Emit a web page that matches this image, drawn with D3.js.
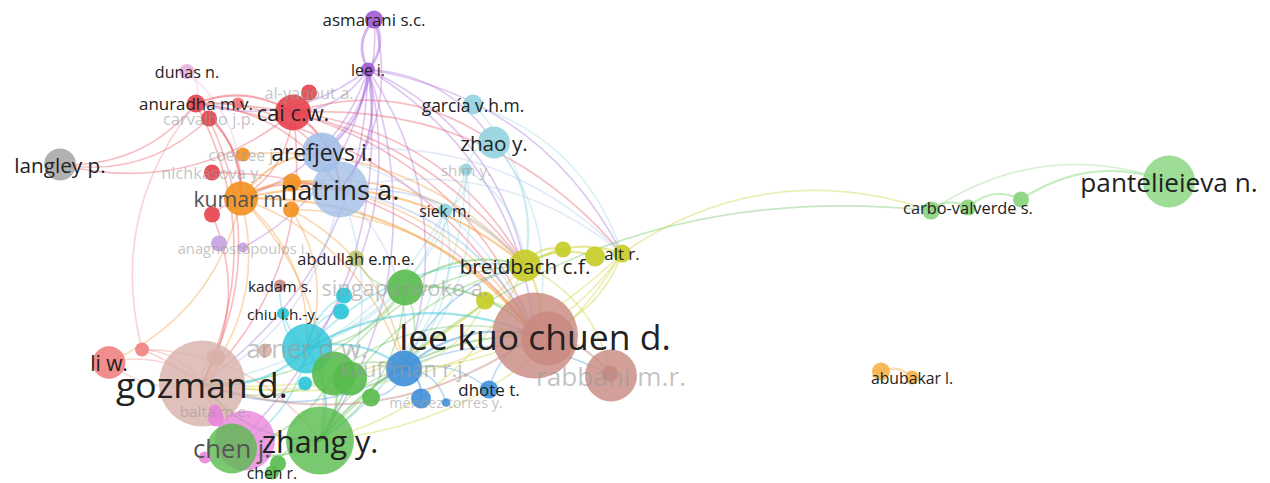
<!DOCTYPE html>
<html>
<head>
<meta charset="utf-8">
<script src="https://cdn.jsdelivr.net/npm/d3@7"></script>
<style>
  body { margin: 0; background: #fff; }
  svg { display: block; }
</style>
</head>
<body>
<div id="container"></div>
<script>
/* CONSTANTS AND GLOBALS */
const width = 1270,
  height = 483;

/* DATA (map coordinates, weights and clusters of each author) */
const keys = ["asm","leeI","dunas","anu","carv","r6","cai","aly","lang","coet",
  "aref","natr","zhao","garc","shim","siek","nich","kumar","o1","o2",
  "r21","lav1","anag","abd","kad","sing","c1","c2","chiu","breid",
  "y1","y2","alt","y3","lkc","lkc2","rabb","rb2","arner","br3",
  "g1","g2","g3","c3","kauf","b2","dhote","mend","liw","s2",
  "gozm","p1","balta","p2","zhang","p3","chenj","p4","g4","chenr",
  "carbo","lg1","lg2","pant","abub","lo1"];

const labels = ["asmarani s.c.","lee i.","dunas n.","anuradha m.v.","carvalho j.p.","","cai c.w.","al-yaqout a.","langley p.","coetzee j.",
  "arefjevs i.","natrins a.","zhao y.","garcía v.h.m.","shim y.","siek m.","nichkasova y.","kumar m.","","",
  "","","anagnostopoulos i.","abdullah e.m.e.","kadam s.","singapurwoko a.","","","chiu i.h.-y.","breidbach c.f.",
  "","","alt r.","","lee kuo chuen d.","","rabbani m.r.","","arner d.w.","",
  "","","","","kauffman r.j.","","dhote t.","méndez-torres y.","li w.","",
  "gozman d.","","balta m.e.","","zhang y.","","chen j.","","","chen r.",
  "carbo-valverde s.","","","pantelieieva n.","abubakar l.",""];

const xs = [-2.61,-2.67,-4.48,-4.39,-4.26,-3.97,-3.42,-3.26,-5.75,-3.92,
  -3.13,-2.95,-1.41,-1.62,-1.69,-1.90,-4.23,-3.94,-3.43,-3.44,
  -4.23,-4.16,-3.92,-2.79,-3.55,-2.30,-2.91,-2.94,-3.52,-1.10,
  -0.72,-0.40,-0.13,-1.50,-1.00,-0.87,-0.24,-0.25,-3.28,-3.70,
  -3.01,-2.85,-2.64,-3.30,-2.31,-2.14,-1.46,-1.89,-5.26,-4.93,
  -4.33,-4.19,-4.20,-4.19,-3.15,-3.90,-4.03,-4.30,-3.57,-3.63,
  3.33,2.96,3.86,5.34,2.77,2.46];

const ys = [-2.22,-1.72,-1.70,-1.38,-1.23,-1.38,-1.29,-1.49,-0.77,-0.87,
  -0.89,-0.52,-0.99,-1.37,-0.72,-0.31,-0.69,-0.43,-0.59,-0.32,
  -0.27,0.02,0.06,0.17,0.44,0.46,0.54,0.70,0.72,0.24,
  0.08,0.15,0.12,0.59,0.94,0.97,1.34,1.32,1.07,1.09,
  1.32,1.37,1.56,1.42,1.27,1.57,1.48,1.61,1.21,1.08,
  1.42,1.16,1.69,1.77,1.99,1.99,2.07,2.16,2.22,2.31,
  -0.34,-0.31,-0.42,-0.60,1.36,1.30];

const weights = [4.4,2.6,3.0,4.4,3.5,2.0,17.5,3.5,13.8,2.6,
  21.6,42.4,13.8,5.4,2.0,2.6,3.5,15.6,4.4,3.5,
  3.5,3.5,1.4,3.5,2.0,17.5,3.5,3.5,2.0,13.8,
  3.5,5.4,4.4,4.4,100,39.4,36.5,3.5,33.8,2.6,
  26.2,15.6,4.4,2.6,17.5,5.4,4.4,1.0,14.5,2.6,
  100,4.4,2.0,3.5,62.5,48.6,33.8,2.0,3.5,2.6,
  3.5,4.4,3.5,36.5,2.6,4.4];

const clusters = ["purple","purple","pinkL","red","red","redL","red","red","grey","orange",
  "lblue","lblue","lcyan","lcyan","lcyan","lcyan","red","orange","orange","orange",
  "red","lav","lav","olive","brown","green","cyan","cyan","cyan","yellow",
  "yellow","yellow","yellow","yellow","brown","brown","brown","brown","cyan","brownL",
  "green","green","green","cyan","blue","blue","blue","blue","salmon","salmon",
  "brownL","brownL","pink","pink","green","pink","green","pink","green","green",
  "lgreen","lgreen","lgreen","lgreen","lorange","lorange"];

const fadedLabels = ["carvalho j.p.","al-yaqout a.","coetzee j.","nichkasova y.","shim y.","anagnostopoulos i.",
  "singapurwoko a.","rabbani m.r.","arner d.w.","kauffman r.j.","méndez-torres y.","balta m.e."];
const greyLabels = ["kumar m.","chen j."];

const links = [
  ["leeI","asm",3],["asm","leeI",3],
  ["leeI","cai",1],["leeI","aref",2],["leeI","natr",2],["leeI","kumar",1],["leeI","anag",1],["leeI","gozm",1],
  ["leeI","arner",1],["leeI","kauf",1],["leeI","zhao",1],["leeI","breid",1],["leeI","lkc",1],["leeI","zhang",1],
  ["leeI","anu",1],["leeI","alt",1],["leeI","chenj",1],
  ["asm","natr",1],["asm","aref",1],
  ["anu","lang",1],["anu","cai",2],["anu","kumar",2],["anu","natr",1],["anu","gozm",1],["anu","aref",1],["anu","breid",1],["anu","lkc",1],
  ["cai","lang",1],["cai","natr",2],["cai","kumar",1],["cai","breid",1],["cai","alt",1],["cai","lkc",1],["cai","zhao",1],["cai","gozm",1],
  ["carv","lang",1],["carv","kumar",1],["carv","gozm",1],
  ["dunas","anu",1],["dunas","kumar",1],
  ["kumar","natr",2],["kumar","aref",2],["kumar","gozm",1],["kumar","zhang",1],["kumar","lkc",2],["kumar","breid",2],
  ["kumar","kauf",1],["kumar","arner",1],["kumar","liw",1],
  ["o1","lkc",1],["o1","breid",1],["o2","kauf",1],["o2","arner",1],["o2","lkc",1],["coet","breid",1],
  ["r21","gozm",1],["r21","natr",1],["nich","lkc",1],
  ["s2","anu",1],["s2","gozm",1],["s2","zhang",1],["liw","gozm",1],["s2","chenj",1],
  ["natr","lkc",2],["natr","breid",2],["natr","gozm",1],["natr","zhang",1],["natr","alt",1],["natr","kauf",1],
  ["aref","lkc",1],["aref","alt",1],
  ["shim","siek",1],["shim","zhao",1],["shim","arner",1],["shim","kauf",1],["shim","zhang",1],["shim","breid",1],
  ["zhao","breid",1],["zhao","lkc",1],["garc","alt",1],["garc","breid",1],
  ["siek","arner",1],["siek","kauf",1],["siek","zhang",1],["siek","gozm",1],
  ["arner","gozm",2],["arner","zhang",2],["arner","lkc",2],["arner","kauf",2],["arner","breid",1],["arner","chenj",1],
  ["arner","chiu",1],["arner","c1",1],["arner","c2",1],["arner","kad",1],
  ["sing","lkc",2],["sing","breid",2],["sing","zhang",1],["sing","gozm",1],["sing","kauf",1],["sing","arner",1],["sing","abd",1],
  ["g1","lkc",1],["g1","breid",1],["g1","kauf",1],["g1","zhang",2],["g1","gozm",1],["g1","chenj",1],
  ["zhang","lkc",2],["zhang","kauf",1],["zhang","gozm",2],["zhang","breid",1],["zhang","chenj",2],
  ["chenr","zhang",1],["chenr","chenj",1],["zhang","lg1",1],
  ["kauf","lkc",2],["kauf","breid",1],["kauf","dhote",1],["kauf","b2",2],["kauf","gozm",1],["kauf","rabb",1],["kauf","g3",1],["kauf","mend",1],
  ["dhote","lkc",1],
  ["breid","lkc",2],["breid","rabb",1],["breid","alt",2],["breid","y1",2],["breid","y2",2],["breid","gozm",1],["breid","zhang",1],
  ["alt","lg1",1],["alt","lkc",1],["alt","gozm",1],["alt","zhang",1],["alt","kauf",1],
  ["y3","lkc",1],["y3","gozm",1],["y3","kauf",1],
  ["lkc","rabb",2],["lkc","gozm",2],
  ["gozm","chenj",2],["gozm","liw",1],["gozm","balta",1],["gozm","p1",1],
  ["lg1","carbo",2],["carbo","lg2",2],["lg2","pant",2],["lg1","pant",1],
  ["lo1","abub",2]
];

const palette = {
  red: "#e6404b", redL: "#ef6f72", green: "#58bb4c", blue: "#3d8fdb", yellow: "#c6cc25",
  purple: "#9f5ad6", cyan: "#28c4d8", orange: "#f3901f", brown: "#c88880", brownL: "#d8b0a9",
  pink: "#ea84dc", pinkL: "#eab0dc", lblue: "#a3bfe8", lcyan: "#93d3de", grey: "#a9a9a9",
  salmon: "#ef8181", lav: "#c4a2e2", olive: "#c6c26a", lgreen: "#86d47b", lorange: "#f6b14a"
};

/* BUILD NODES */
const nodes = keys.map((k, i) => ({
  key: k, label: labels[i], x: xs[i], y: ys[i], w: weights[i], cluster: clusters[i]
}));
const byKey = new Map(nodes.map(d => [d.key, d]));

/* SCALES */
const xScale = d3.scaleLinear().domain([-6.35, 6.35]).range([0, width]);
const yScale = d3.scaleLinear().domain([-2.415, 2.415]).range([0, height]);
const rScale = d3.scaleSqrt().domain([0, 100]).range([0, 43]);
const fontScale = d3.scaleLinear().domain([0, 43]).range([12, 35.5]);

const svg = d3.select("#container")
  .append("svg")
  .attr("width", width)
  .attr("height", height);

/* LINKS as curved arcs */
function arc(l) {
  const s = byKey.get(l[0]), t = byKey.get(l[1]);
  const x1 = xScale(s.x), y1 = yScale(s.y), x2 = xScale(t.x), y2 = yScale(t.y);
  const dx = x2 - x1, dy = y2 - y1;
  const len = Math.hypot(dx, dy) || 1;
  const k = len < 60 ? 0.35 : 0.25;
  const cx = (x1 + x2) / 2 + dy * k, cy = (y1 + y2) / 2 - dx * k;
  const p = d3.path();
  p.moveTo(x1, y1);
  p.quadraticCurveTo(cx, cy, x2, y2);
  return p.toString();
}

svg.append("g")
  .selectAll("path")
  .data(links.slice().sort((a, b) => a[2] - b[2]))
  .join("path")
  .attr("d", arc)
  .attr("fill", "none")
  .attr("stroke", d => palette[byKey.get(d[0]).cluster])
  .attr("stroke-opacity", d => d[2] > 1 ? 0.45 : 0.34)
  .attr("stroke-width", d => 1.1 + d[2] * 0.55);

/* NODES, larger first */
svg.append("g")
  .selectAll("circle")
  .data(nodes.slice().sort((a, b) => b.w - a.w))
  .join("circle")
  .attr("cx", d => xScale(d.x))
  .attr("cy", d => yScale(d.y))
  .attr("r", d => rScale(d.w))
  .attr("fill", d => palette[d.cluster])
  .attr("fill-opacity", d => d.w > 30 ? 0.8 : 0.9);

/* LABELS */
svg.append("g")
  .selectAll("text")
  .data(nodes.filter(d => d.label).sort((a, b) => a.w - b.w))
  .join("text")
  .attr("x", d => xScale(d.x))
  .attr("y", d => yScale(d.y))
  .attr("text-anchor", "middle")
  .attr("dominant-baseline", "central")
  .style("font-family", "'Open Sans', sans-serif")
  .style("font-size", d => fontScale(rScale(d.w)) + "px")
  .attr("fill", d => fadedLabels.includes(d.label) ? "#9a9a9a"
    : greyLabels.includes(d.label) ? "#555" : "#222")
  .attr("fill-opacity", d => fadedLabels.includes(d.label) ? 0.6 : 1)
  .text(d => d.label);
</script>
</body>
</html>
